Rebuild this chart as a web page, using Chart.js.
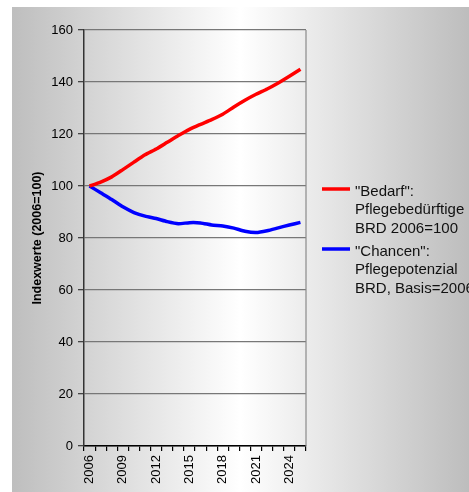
<!DOCTYPE html>
<html>
<head>
<meta charset="utf-8">
<script src="https://cdn.jsdelivr.net/npm/chart.js@4/dist/chart.umd.min.js"></script>
<style>
html,body{margin:0;padding:0;background:#fff;}
#wrap{width:469px;height:492px;}
</style>
</head>
<body>
<div id="wrap"><canvas id="c" width="469" height="492"></canvas></div>
<script>
const years = ['2006','2007','2008','2009','2010','2011','2012','2013','2014','2015','2016','2017','2018','2019','2020','2021','2022','2023','2024','2025'];
const bedarf = [100,101.5,103.5,106.3,109.2,112,114.2,116.8,119.4,121.8,123.7,125.5,127.6,130.4,133,135.3,137.3,139.6,142.2,144.9];
const chancen = [100,97.4,94.8,92,89.8,88.4,87.5,86.3,85.5,85.9,85.8,85,84.6,83.8,82.6,82.1,82.8,83.9,85,86];
const legendBedarf = ['"Bedarf":','Pflegebedürftige','BRD 2006=100'];
const legendChancen = ['"Chancen":','Pflegepotenzial','BRD, Basis=2006'];
const yTitle = 'Indexwerte (2006=100)';
const yMin = 0, yMax = 160, yStep = 20;

const FONT = '"Liberation Sans", Arial, sans-serif';

const bgPlugin = {
  id: 'bg',
  beforeDraw(chart) {
    const ctx = chart.ctx, w = chart.width, h = chart.height;
    ctx.save();
    ctx.fillStyle = '#ffffff';
    ctx.fillRect(0, 0, w, h);
    const x0 = 12, y0 = 7;
    const g = ctx.createLinearGradient(x0, 0, w, 0);
    g.addColorStop(0, '#bebebe');
    g.addColorStop(0.5, '#ffffff');
    g.addColorStop(1, '#bdbdbd');
    ctx.fillStyle = g;
    ctx.fillRect(x0, y0, w - x0, h - y0);
    ctx.restore();
  },
  afterDraw(chart) {
    const ctx = chart.ctx, a = chart.chartArea;
    ctx.save();
    ctx.strokeStyle = '#8a8a8a';
    ctx.lineWidth = 1.2;
    ctx.beginPath();
    ctx.moveTo(a.right, a.top);
    ctx.lineTo(a.right, a.bottom);
    ctx.stroke();
    const lx = a.right + 16;
    const items = [
      {color: '#ff0000', lines: legendBedarf, y: 189},
      {color: '#0000ff', lines: legendChancen, y: 249}
    ];
    ctx.font = '15px ' + FONT;
    ctx.fillStyle = '#111';
    ctx.textBaseline = 'alphabetic';
    items.forEach(it => {
      ctx.strokeStyle = it.color;
      ctx.lineWidth = 3.5;
      ctx.beginPath();
      ctx.moveTo(lx, it.y);
      ctx.lineTo(lx + 28, it.y);
      ctx.stroke();
      it.lines.forEach((t, i) => {
        ctx.fillText(t, lx + 33, it.y + 6.7 + i * 18.4);
      });
    });
    ctx.restore();
  }
};

new Chart(document.getElementById('c'), {
  type: 'line',
  data: {
    labels: years,
    datasets: [
      {label: legendBedarf.join(' '), data: bedarf, borderColor: '#ff0000', borderWidth: 3.5, pointRadius: 0, tension: 0.2, fill: false},
      {label: legendChancen.join(' '), data: chancen, borderColor: '#0000ff', borderWidth: 3.5, pointRadius: 0, tension: 0.2, fill: false}
    ]
  },
  options: {
    responsive: false,
    animation: false,
    devicePixelRatio: 1,
    layout: {padding: {left: 0, top: 30, right: 163, bottom: 0}},
    plugins: {legend: {display: false}, tooltip: {enabled: false}},
    scales: {
      x: {
        type: 'category',
        offset: true,
        grid: {drawOnChartArea: false, drawTicks: true, tickLength: 5, color: '#000', offset: true, lineWidth: 1.2},
        border: {color: '#000', width: 1.5},
        ticks: {
          autoSkip: false, minRotation: 90, maxRotation: 90, padding: 4,
          color: '#000', font: {family: FONT, size: 13},
          callback: function(v, i) { return i % 3 === 0 ? this.getLabelForValue(v) : ''; }
        },
        afterFit(scale) { scale.height = 46; }
      },
      y: {
        min: yMin, max: yMax,
        grid: {color: '#777', lineWidth: 1.3, tickLength: 6, tickColor: '#444'},
        border: {color: '#333', width: 1.5},
        ticks: {stepSize: yStep, padding: 5, color: '#000', font: {family: FONT, size: 13}},
        title: {display: true, text: yTitle, color: '#000', font: {family: FONT, size: 12.5, weight: 'bold'}, padding: {top: 30, bottom: 0}},
        afterFit(scale) { scale.width = 84; }
      }
    }
  },
  plugins: [bgPlugin]
});
</script>
</body>
</html>
